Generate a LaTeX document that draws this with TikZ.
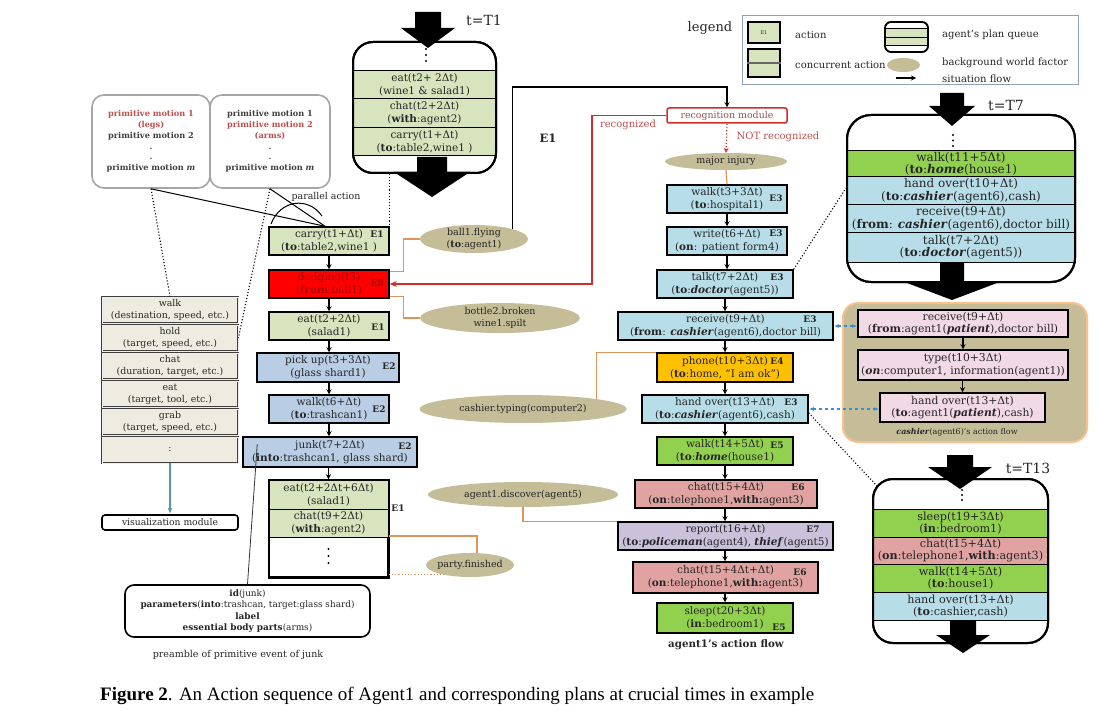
\documentclass[tikz,border=0pt]{standalone}
\usepackage{fontspec}
\usepackage{graphicx}
\setmainfont{DejaVu Serif}
\newfontfamily\capfont{Liberation Serif}
\usetikzlibrary{arrows.meta,shapes.geometric}
\definecolor{gEa}{HTML}{D7E4BD}
\definecolor{bEb}{HTML}{B9CDE5}
\definecolor{bEc}{HTML}{B7DEE8}
\definecolor{gEe}{HTML}{92D050}
\definecolor{oEd}{HTML}{FFC000}
\definecolor{rEf}{HTML}{E0A3A1}
\definecolor{pEg}{HTML}{CCC1DA}
\definecolor{pinkk}{HTML}{F2D9E6}
\definecolor{tanbg}{HTML}{C4BD97}
\definecolor{bgline}{HTML}{D9955A}
\definecolor{redEh}{HTML}{FF0000}
\definecolor{dred}{HTML}{B00000}
\definecolor{listfill}{HTML}{EEECE1}
\definecolor{tealA}{HTML}{4F9AB0}
\definecolor{pmred}{HTML}{C0504D}
\definecolor{dblue}{HTML}{3A8DD0}
\definecolor{legbd}{HTML}{8EA2B6}
\definecolor{txt}{HTML}{262626}
\definecolor{recogtxt}{HTML}{9A5050}
\definecolor{redline}{HTML}{D42A2A}
\definecolor{cfborder}{HTML}{FAC090}
\newcommand\fnA{\fontsize{10.5}{13}\selectfont}
\newcommand\fnQ{\fontsize{12}{12.5}\selectfont}
\newcommand\fnR{\fontsize{11.2}{12.5}\selectfont}
\newcommand\fnK{\fontsize{10.8}{12.5}\selectfont}
\newcommand\fnE{\bfseries\fontsize{9}{10}\selectfont}
\newcommand\fnB{\fontsize{9.5}{11.5}\selectfont}
\newcommand\fnL{\fontsize{9.4}{12}\selectfont}
\newcommand\fnP{\fontsize{8.9}{11.5}\selectfont}
\newcommand\fnG{\fontsize{10}{11}\selectfont}
\newcommand\bb[1]{\textbf{#1}}
\newcommand\bi[1]{\textbf{\textit{#1}}}
\newcommand\bigarr[6]{\fill[black] ({#1-#5},#2) -- ({#1+#5},#2) -- ({#1+#5},#3) -- ({#1+#6},#3) -- (#1,#4) -- ({#1-#6},#3) -- ({#1-#5},#3) -- cycle;}
\newcommand\threedots[4]{\fill[black] (#1,#2) circle (1.1pt) (#1,#3) circle (1.1pt) (#1,#4) circle (1.1pt);}
\begin{document}
\begin{tikzpicture}[x=1pt,y=-1pt,
  act/.style={draw=black, line width=1.5pt, inner sep=1pt, align=center, font=\fnA, text=txt},
  qrow/.style={draw=black, line width=1pt, inner sep=0pt, align=center, text=txt},
  queue/.style={draw=black, line width=2pt, fill=white, inner sep=0pt},
  elab/.style={font=\fnE, inner sep=0pt, text=txt},
  bg/.style={ellipse, fill=tanbg, inner sep=0pt},
  bgtxt/.style={font=\fnB, align=center, inner sep=0pt, text=txt},
  flow/.style={-{Stealth[length=5pt,width=5pt]}, line width=1.1pt, draw=black},
  bgl/.style={line width=1.2pt, draw=bgline},
  dotln/.style={line width=1.1pt, dotted, draw=black},
  blu/.style={{Latex[length=5pt]}-{Latex[length=5pt]}, dashed, line width=1.2pt, draw=dblue},
  lst/.style={draw=black!75, double=white!85!gray, double distance=0.5pt, line width=0.8pt, fill=listfill, minimum width=136pt, minimum height=26pt, inner sep=0pt, align=center, font=\fnL, text=txt},
  pmbox/.style={draw=gray!70, line width=1.6pt, rounded corners=12pt, minimum height=93pt, inner sep=0pt, align=center, font=\bfseries\fontsize{8.2}{10.8}\selectfont, text=black!75},
  legtxt/.style={font=\fnG, anchor=west, inner sep=0pt, text=txt}
]
\useasboundingbox (0,0) rectangle (1099,719);
\fill[white] (0,0) rectangle (1099,719);

% ---------- primitive motion boxes ----------
\node[pmbox, minimum width=118pt] (pm1) at (151,141.5) {\textcolor{pmred}{primitive motion 1}\\\textcolor{pmred}{(legs)}\\primitive motion 2\\.\\.\\primitive motion \textit{m}};
\node[pmbox, minimum width=120pt] (pm2) at (270,141.5) {primitive motion 1\\\textcolor{pmred}{primitive motion 2}\\\textcolor{pmred}{(arms)}\\.\\.\\primitive motion \textit{m}};
\node[font=\fontsize{9.4}{10}\selectfont, inner sep=0pt, text=txt] (pa) at (326,197) {parallel action};

% ---------- left list ----------
\node[lst] (l1) at (170,310) {walk\\(destination, speed, etc.)};
\node[lst] (l2) at (170,338) {hold\\(target, speed, etc.)};
\node[lst] (l3) at (170,366) {chat\\(duration, target, etc.)};
\node[lst] (l4) at (170,394) {eat\\(target, tool, etc.)};
\node[lst] (l5) at (170,422) {grab\\(target, speed, etc.)};
\node[lst] (l6) at (170,450) {:};
\node[draw=black, line width=1.6pt, rounded corners=3pt, minimum width=136pt, minimum height=15pt, inner sep=0pt, font=\fontsize{9.2}{10}\selectfont, text=txt] (vis) at (170,522.5) {visualization module};
\draw[-{Latex[length=6pt]}, line width=1.1pt, draw=tealA] (l6.south) -- (vis.north);

% ---------- T1 queue ----------
\node[queue, rounded corners=20pt, minimum width=143pt, minimum height=131pt] (q1) at (424.5,107.5) {};
\node[qrow, fill=gEa, minimum width=143pt, minimum height=28pt, font=\fnA] (q1a) at (424.5,85) {eat(t2+ 2Δt)\\(wine1 \& salad1)};
\node[qrow, fill=gEa, minimum width=143pt, minimum height=29pt, font=\fnA] (q1b) at (424.5,113.5) {chat(t2+2Δt)\\(\bb{with}:agent2)};
\node[qrow, fill=gEa, minimum width=143pt, minimum height=28pt, font=\fnA] (q1c) at (424.5,142) {carry(t1+Δt)\\(\bb{to}:table2,wine1 )};
\node[queue, fill=none, rounded corners=20pt, minimum width=143pt, minimum height=131pt] (q1o) at (424.5,107.5) {};
\threedots{426}{49}{55}{61}
\bigarr{428}{12}{28}{48}{13}{27}
\bigarr{432}{157}{172}{197}{15}{38}
\node[font=\fontsize{14}{15}\selectfont, inner sep=0pt, text=txt] (t1) at (484,20) {t=T1};

% ---------- main left column ----------
\node[act, fill=gEa, minimum width=120pt, minimum height=28pt] (c1) at (329,241) {carry(t1+Δt)\\(\bb{to}:table2,wine1 )};
\node[act, fill=redEh, minimum width=120pt, minimum height=28pt, text=dred] (c2) at (329,284) {dodging(t3)\\(\bb{from}:ball1)};
\node[act, fill=gEa, minimum width=120pt, minimum height=28pt] (c3) at (329,326) {eat(t2+2Δt)\\(salad1)};
\node[act, fill=bEb, minimum width=142pt, minimum height=29pt] (c4) at (328,367.5) {pick up(t3+3Δt)\\(glass shard1)};
\node[act, fill=bEb, minimum width=120pt, minimum height=28pt] (c5) at (329,409) {walk(t6+Δt)\\(\bb{to}:trashcan1)};
\node[act, fill=bEb, minimum width=174pt, minimum height=30pt] (c6) at (330,452) {junk(t7+2Δt)\\(\bb{into}:trashcan1, glass shard)};
\node[act, fill=white, minimum width=119pt, minimum height=97pt] (c7) at (328.5,528.5) {};
\node[qrow, fill=gEa, minimum width=119pt, minimum height=29pt, font=\fnA] (c7a) at (328.5,494.5) {eat(t2+2Δt+6Δt)\\(salad1)};
\node[qrow, fill=gEa, minimum width=119pt, minimum height=28pt, font=\fnA] (c7b) at (328.5,523) {chat(t9+2Δt)\\(\bb{with}:agent2)};
\draw[line width=1.5pt] (c7.north west) rectangle (c7.south east);
\threedots{328.5}{549}{556}{563}
\node[elab] (ec1) at (377,234) {E1};
\node[elab, text=dred] (ec2) at (377,283) {E8};
\node[elab] (ec3) at (378,327) {E1};
\node[elab] (ec4) at (389,366) {E2};
\node[elab] (ec5) at (379,409) {E2};
\node[elab] (ec6) at (405,446) {E2};
\node[elab] (ec7) at (398,508) {E1};
\draw[flow] (c1) -- (c2);
\draw[flow] (c2) -- (c3);
\draw[flow] (c3.south) -- (c3.south |- c4.north);
\draw[flow] (c5.north |- c4.south) -- (c5.north);
\draw[flow] (c5.south) -- (c5.south |- c6.north);
\draw[flow] (c7.north |- c6.south) -- (c7.north);

% preamble
\node[draw=black, line width=1.6pt, rounded corners=9pt, minimum width=245pt, minimum height=52pt, inner sep=0pt, align=center, font=\fnP, text=txt] (pre) at (247.5,611) {\bb{id}(junk)\\\bb{parameters}(\bb{into}:trashcan, target:glass shard)\\\bb{label}\\\bb{essential body parts}(arms)};
\node[font=\fontsize{9.5}{10}\selectfont, inner sep=0pt, text=txt] (prel) at (238,655) {preamble of primitive event of junk};
\draw[line width=0.8pt, draw=black!80] ([xshift=15pt,yshift=-8pt]c6.north west) -- (pre.north);

% primitive motion links
\draw[line width=1pt] (pm1.south) -- ([xshift=-4pt]c1.north);
\draw[line width=1pt] (pm2.south) -- ([xshift=-4pt]c1.north);
\draw[line width=1pt] (271,224) .. controls (280,200) and (308,196) .. (322,216);
\draw[dotln] (pm1.south) -- (l1.north);
\draw[dotln] (pm2.south) -- (l2.east);
\draw[dotln] (c1.north east |- q1.south) -- (c1.north east);

% ---------- background factors ----------
\node[bg, minimum width=108pt, minimum height=28pt] (e1) at (474,239) {};
\node[bgtxt] (e1t) at (e1) {ball1.flying\\(\bb{to}:agent1)};
\node[bg, minimum width=160pt, minimum height=30pt] (e2) at (500,318) {};
\node[bgtxt] (e2t) at (e2) {bottle2.broken\\wine1.spilt};
\node[bg, minimum width=207pt, minimum height=28pt] (e3) at (523,409) {};
\node[bgtxt] (e3t) at (e3) {cashier.typing(computer2)};
\node[bg, minimum width=190pt, minimum height=25pt] (e4) at (523,494.5) {};
\node[bgtxt] (e4t) at (e4) {agent1.discover(agent5)};
\node[bg, minimum width=88pt, minimum height=24pt] (e5) at (470,565) {};
\node[bgtxt] (e5t) at (e5) {party.finished};
\draw[bgl] (e1.west) -- ++(-16,0) |- ([yshift=-2pt]c2.north east);
\draw[bgl] (e2.west) -- ++(-16,0) |- ([yshift=2pt]c2.south east);
\draw[bgl] (c7.east |- 0,536) -| (e5.60);
\draw[bgl, dotted] (c7.east |- e5.200) -- (e5.200);
\node[font=\bfseries\fontsize{11.5}{12}\selectfont, inner sep=0pt, text=txt] (eE1) at (548,138) {E1};

% ---------- right column ----------
\node[draw=redline, line width=1.5pt, rounded corners=2pt, minimum width=120pt, minimum height=15pt, inner sep=0pt, font=\fontsize{9.4}{10}\selectfont, text=recogtxt] (recog) at (727,115.5) {recognition module};
\node[font=\fontsize{10}{11}\selectfont, text=pmred, inner sep=0pt] (rec) at (628,125) {recognized};
\node[font=\fontsize{10}{11}\selectfont, text=pmred, inner sep=0pt] (nrec) at (778,137) {NOT recognized};
\node[bg, minimum width=122pt, minimum height=17pt] (mi) at (726,161.5) {};
\node[bgtxt] (mit) at (mi) {major injury};
\coordinate (tr) at (727,87);
\draw[flow] (e1.north east) |- (tr) -- (recog.north);
\draw[line width=1.3pt, draw=redline, -{Stealth[length=7pt,width=6pt]}] (recog.west) -| (592,200) |- (c2.east);
\draw[line width=1.2pt, draw=redline, dotted, -{Stealth[length=5pt,width=5pt]}] (recog.south) -- (mi.north);

\node[act, fill=bEc, minimum width=120pt, minimum height=28pt] (r1) at (727,199) {walk(t3+3Δt)\\(\bb{to}:hospital1)};
\node[act, fill=bEc, minimum width=120pt, minimum height=28pt] (r2) at (727,241) {write(t6+Δt)\\(\bb{on}: patient form4)};
\node[act, fill=bEc, minimum width=136pt, minimum height=28pt] (r3) at (725,284) {talk(t7+2Δt)\\(\bb{to}:\bi{doctor}(agent5))};
\node[act, fill=bEc, minimum width=215pt, minimum height=28pt] (r4) at (725.5,326) {receive(t9+Δt)\\(\bb{from}: \bi{cashier}(agent6),doctor bill)};
\node[act, fill=oEd, minimum width=136pt, minimum height=29pt] (r5) at (725,367.5) {phone(t10+3Δt)\\(\bb{to}:home, “I am ok”)};
\node[act, fill=bEc, minimum width=166pt, minimum height=28pt] (r6) at (725,409) {hand over(t13+Δt)\\(\bb{to}:\bi{cashier}(agent6),cash)};
\node[act, fill=gEe, minimum width=136pt, minimum height=28pt] (r7) at (725,451) {walk(t14+5Δt)\\(\bb{to}:\bi{home}(house1)};
\node[act, fill=rEf, minimum width=182pt, minimum height=28pt] (r8) at (726,494) {chat(t15+4Δt)\\(\bb{on}:telephone1,\bb{with:}agent3)};
\node[act, fill=pEg, minimum width=215pt, minimum height=28pt] (r9) at (725.5,536) {report(t16+Δt)\\(\bb{to}:\bi{policeman}(agent4), \bi{thief}(agent5)};
\node[act, fill=rEf, minimum width=185pt, minimum height=31pt] (r10) at (725.5,577.5) {chat(t15+4Δt+Δt)\\(\bb{on}:telephone1,\bb{with:}agent3)};
\node[act, fill=gEe, minimum width=136pt, minimum height=30pt] (r11) at (725,618) {sleep(t20+3Δt)\\(\bb{in}:bedroom1)};
\node[font=\bfseries\fontsize{10.3}{11}\selectfont, inner sep=0pt, text=txt] (aaf) at (726,645) {agent1’s action flow};
\node[elab] (er1) at (776,198) {E3};
\node[elab] (er2) at (776,233) {E3};
\node[elab] (er3) at (777,277) {E3};
\node[elab] (er4) at (810,319) {E3};
\node[elab] (er5) at (777,361) {E4};
\node[elab] (er6) at (791,402) {E3};
\node[elab] (er7) at (777,445) {E5};
\node[elab] (er8) at (798,487) {E6};
\node[elab] (er9) at (813,529) {E7};
\node[elab] (er10) at (800,572) {E6};
\node[elab] (er11) at (779,627) {E5};
\draw[bgl] (mi.south) -- (r1.north);
\draw[flow] (r1.south) -- (r2.north);
\draw[flow] (r2.south) -- (r2.south |- r3.north);
\draw[flow] (r3.south) -- (r3.south |- r4.north);
\draw[flow] (r3.south |- r4.south) -- (r3.south |- r5.north);
\draw[flow] (r5.south) -- (r5.south |- r6.north);
\draw[flow] (r5.south |- r6.south) -- (r7.north);
\draw[flow] (r7.south) -- (r7.south |- r8.north);
\draw[flow] (r7.south |- r8.south) -- (r7.south |- r9.north);
\draw[flow] (r7.south |- r9.south) -- (r7.south |- r10.north);
\draw[flow] (r7.south |- r10.south) -- (r11.north);
\draw[bgl] (e3.north east) |- (r5.north west);
\draw[bgl] (e4.south) |- (r9.north west);

% ---------- legend ----------
\node[draw=legbd, line width=0.8pt, minimum width=336pt, minimum height=69pt, inner sep=0pt] (leg) at (910,49.5) {};
\node[font=\fontsize{13}{14}\selectfont, inner sep=0pt, text=txt] (legt) at (710,28) {legend};
\node[act, fill=gEa, minimum width=32pt, minimum height=21pt, font=\fontsize{5}{6}\selectfont] (li1) at (764,32.5) {E1};
\node[act, fill=gEa, minimum width=32pt, minimum height=28pt] (li2) at (764,63) {};
\draw[line width=1.6pt, draw=black!60] (li2.west) -- (li2.east);
\node[qrow, fill=white, minimum width=43pt, minimum height=30pt, rounded corners=6pt] (li3) at (906.5,37) {};
\node[qrow, fill=gEa, minimum width=43pt, minimum height=8.5pt] (li3a) at (906.5,33.25) {};
\node[qrow, fill=gEa, minimum width=43pt, minimum height=8.5pt] (li3b) at (906.5,41.75) {};
\node[draw=black, line width=1.8pt, rounded corners=6pt, minimum width=43pt, minimum height=30pt, inner sep=0pt] (li3o) at (906.5,37) {};
\node[bg, minimum width=33pt, minimum height=14pt] (li4) at (903.5,65) {};
\coordinate (la1) at (896,78);
\coordinate (la2) at (916,78);
\draw[flow] (la1) -- (la2);
\node[legtxt] (lt1) at (795,35) {action};
\node[legtxt] (lt2) at (795,65) {concurrent action};
\node[legtxt] (lt3) at (942,35) {agent’s plan queue};
\node[legtxt] (lt4) at (942,63) {background world factor};
\node[legtxt] (lt5) at (942,78.5) {situation flow};

% ---------- T7 queue ----------
\node[queue, rounded corners=24pt, minimum width=228pt, minimum height=167pt] (q2) at (961,198.5) {};
\node[qrow, fill=gEe, minimum width=228pt, minimum height=26pt, font=\fnQ] (q2a) at (961,164) {walk(t11+5Δt)\\(\bb{to}:\bi{home}(house1)};
\node[qrow, fill=bEc, minimum width=228pt, minimum height=28pt, font=\fnQ] (q2b) at (961,191) {hand over(t10+Δt)\\(\bb{to}:\bi{cashier}(agent6),cash)};
\node[qrow, fill=bEc, minimum width=228pt, minimum height=28pt, font=\fnQ] (q2c) at (961,219) {receive(t9+Δt)\\(\bb{from}: \bi{cashier}(agent6),doctor bill)};
\node[qrow, fill=bEc, minimum width=228pt, minimum height=29pt, font=\fnQ] (q2d) at (961,247.5) {talk(t7+2Δt)\\(\bb{to}:\bi{doctor}(agent5))};
\node[queue, fill=none, rounded corners=24pt, minimum width=228pt, minimum height=167pt] (q2o) at (961,198.5) {};
\threedots{953}{135}{140.5}{146}
\bigarr{952}{93}{106}{126}{12}{23}
\bigarr{952}{262}{283}{300}{12}{45}
\node[font=\fontsize{14}{15}\selectfont, inner sep=0pt, text=txt] (t7) at (1006,105) {t=T7};
\draw[dotln] (r3.north east) -- (q2.west |- 0,188);

% ---------- cashier flow ----------
\node[draw=cfborder, fill=tanbg, line width=2pt, rounded corners=15pt, minimum width=244pt, minimum height=139pt, inner sep=0pt] (cf) at (965,372.5) {};
\node[act, fill=pinkk, minimum width=210pt, minimum height=27pt, font=\fnK] (k1) at (963,323.5) {receive(t9+Δt)\\(\bb{from}:agent1(\bi{patient}),doctor bill)};
\node[act, fill=pinkk, minimum width=210pt, minimum height=30pt, font=\fnK] (k2) at (963,365) {type(t10+3Δt)\\(\bi{on}:computer1, information(agent1))};
\node[act, fill=pinkk, minimum width=165pt, minimum height=29pt, font=\fnK] (k3) at (962.5,407.5) {hand over(t13+Δt)\\(\bb{to}:agent1(\bi{patient}),cash)};
\node[font=\fontsize{8}{9}\selectfont, inner sep=0pt, text=txt] (cfl) at (957,432) {\bi{cashier}(agent6)’s action flow};
\draw[flow] (k1) -- (k2);
\draw[flow] (k3.north |- k2.south) -- (k3.north);
\draw[blu] (r4.east) -- (r4.east -| k1.west);
\draw[blu] (r6.east) -- (r6.east -| k3.west);

% ---------- T13 queue ----------
\node[queue, rounded corners=20pt, minimum width=175pt, minimum height=164pt] (q3) at (960.5,561) {};
\node[qrow, fill=gEe, minimum width=175pt, minimum height=28pt, font=\fnR] (q3a) at (960.5,523) {sleep(t19+3Δt)\\(\bb{in}:bedroom1)};
\node[qrow, fill=rEf, minimum width=175pt, minimum height=27pt, font=\fnR] (q3b) at (960.5,550.5) {chat(t15+4Δt)\\(\bb{on}:telephone1,\bb{with}:agent3)};
\node[qrow, fill=gEe, minimum width=175pt, minimum height=28pt, font=\fnR] (q3c) at (960.5,578) {walk(t14+5Δt)\\(\bb{to}:house1)};
\node[qrow, fill=bEc, minimum width=175pt, minimum height=28pt, font=\fnR] (q3d) at (960.5,606) {hand over(t13+Δt)\\(\bb{to}:cashier,cash)};
\node[queue, fill=none, rounded corners=20pt, minimum width=175pt, minimum height=164pt] (q3o) at (960.5,561) {};
\threedots{962}{490}{495}{500}
\bigarr{960}{455}{467}{489}{13}{32}
\bigarr{963}{621}{635}{653}{13}{27}
\node[font=\fontsize{14}{15}\selectfont, inner sep=0pt, text=txt] (t13) at (1028,468) {t=T13};
\draw[dotln] ([yshift=-4pt]r6.east) -- ([xshift=5pt,yshift=-8pt]q3.north west);

% ---------- caption ----------
\node[anchor=base west, inner sep=0pt, font=\capfont\fontsize{19}{22}\selectfont] (cap) at (100,700) {\textbf{Figure 2}. An Action sequence of Agent1 and corresponding plans at crucial times in example};
\end{tikzpicture}
\end{document}
